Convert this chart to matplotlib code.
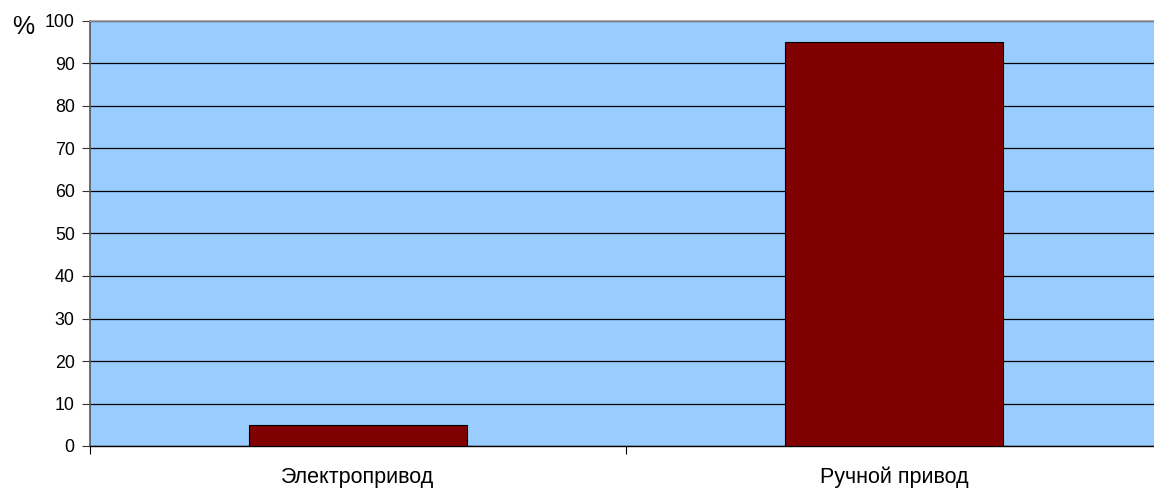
import matplotlib
matplotlib.use("Agg")
import matplotlib.pyplot as plt
import numpy as np

categories = ["Электропривод", "Ручной привод"]
values = [5, 95]
y_ticks = [0, 10, 20, 30, 40, 50, 60, 70, 80, 90, 100]

plt.rcParams['font.family'] = ['Liberation Sans', 'DejaVu Sans']

fig = plt.figure(figsize=(11.54, 4.88), dpi=100)
W, H = 1154, 488
left, right, top, bottom = 90, 1162, 21, 446
ax = fig.add_axes([left / W, (H - bottom) / H, (right - left) / W, (bottom - top) / H])

ax.set_facecolor("#99CCFF")
x = np.arange(len(categories))
ax.bar(x, values, width=0.405, color="#800000", edgecolor="#000000", linewidth=0.8, zorder=3)

ax.set_xlim(-0.5, len(categories) - 0.5)
ax.set_ylim(0, 100)
ax.set_yticks(y_ticks)
ax.set_yticklabels([str(t) for t in y_ticks], fontsize=12.8)
ax.yaxis.grid(True, color="#000000", linewidth=0.9, zorder=1)
ax.set_axisbelow(True)

# category boundary ticks, labels centred between them
ax.set_xticks(np.arange(-0.5, len(categories), 1.0))
ax.set_xticklabels([])
ax.set_xticks(x, minor=True)
ax.set_xticklabels(categories, minor=True, fontsize=15.5)
ax.tick_params(axis="x", which="minor", length=0, pad=15)
ax.tick_params(axis="x", which="major", length=6, direction="out", color="#000000")
ax.tick_params(axis="y", length=6, direction="out", pad=5, color="#333333")

ax.spines["top"].set_color("#999999")
ax.spines["top"].set_linewidth(1.2)
ax.spines["right"].set_visible(False)
ax.spines["left"].set_color("#555555")
ax.spines["left"].set_linewidth(1.2)
ax.spines["bottom"].set_color("#000000")
ax.spines["bottom"].set_linewidth(1.0)

fig.text(12 / W, 1 - 34 / H, "%", fontsize=18, ha="left", va="baseline")

fig.savefig("out.png", dpi=100)
